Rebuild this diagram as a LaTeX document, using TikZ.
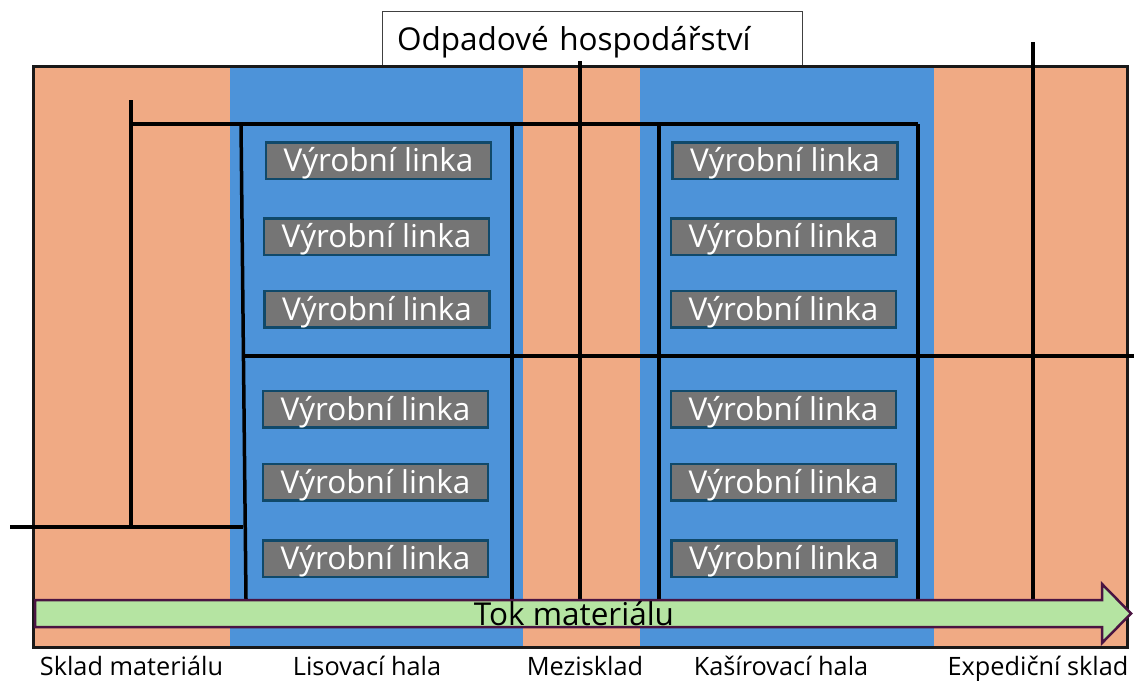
\documentclass[tikz,border=0pt]{standalone}
\usepackage{fontspec}
\setmainfont{Open Sans}
\definecolor{zoneorange}{HTML}{F0AA84}
\definecolor{zoneblue}{HTML}{4D93D9}
\definecolor{linkfill}{HTML}{757575}
\definecolor{linkborder}{HTML}{10496A}
\definecolor{flowfill}{HTML}{B5E4A2}
\definecolor{flowborder}{HTML}{4A1442}
\begin{document}
\begin{tikzpicture}[x=1pt,y=-1pt,
  wall/.style={line width=3.5pt, black},
  linka/.style={draw=linkborder, line width=2.5pt, fill=linkfill, text=white,
    font=\fontsize{31.5}{36}\selectfont, inner sep=0pt, text height=22pt, text depth=0pt,
    minimum width=225pt, minimum height=36.5pt},
  zlabel/.style={font=\fontsize{25.3}{29}\selectfont, anchor=base, inner sep=0pt},
  bigtext/.style={font=\fontsize{31.5}{36}\selectfont}]
\useasboundingbox (0,0) rectangle (1134,680);
% zones
\fill[zoneorange] (33,66) rectangle (230,647);
\fill[zoneblue] (230,66) rectangle (523,647);
\fill[zoneorange] (523,66) rectangle (640,647);
\fill[zoneblue] (640,66) rectangle (934,647);
\fill[zoneorange] (934,66) rectangle (1127,647);
% top box
\node[draw=black!75, line width=0.8pt, fill=white, bigtext, minimum height=55pt,
  inner xsep=15pt, text width=390pt, align=left, text height=22pt, text depth=0pt]
  (odpad) at (592,39) {Odpadové hospodářství};
% outer frame
\draw[line width=3pt, black!90] (33,66) rectangle (1127,647);
% coordinates of walls
\coordinate (p1) at (131,100);
\coordinate (p2) at (131,124);
\coordinate (p3) at (131,527);
\coordinate (p4) at (10,527);
\coordinate (p5) at (243,527);
\coordinate (q1) at (241,124);
\coordinate (q2) at (246,599);
\coordinate (q3) at (512,124);
\coordinate (q4) at (512,599);
\coordinate (q5) at (659,124);
\coordinate (q6) at (659,599);
\coordinate (q7) at (918,124);
\coordinate (q8) at (918,599);
\coordinate (r1) at (580,61);
\coordinate (r2) at (580,599);
\coordinate (s1) at (1033,42);
\coordinate (s2) at (1033,599);
\coordinate (h1) at (243,356);
\coordinate (h2) at (1134,356);
% walls
\draw[wall] (p1) -- (p3);
\draw[wall] (p2) -- (q7);
\draw[wall] (p4) -- (p5);
\draw[wall] (q1) -- (q2);
\draw[wall] (q3) -- (q4);
\draw[wall] (q5) -- (q6);
\draw[wall] (q7) -- (q8);
\draw[wall] (r1) -- (r2);
\draw[wall] (s1) -- (s2);
\draw[wall] (h1) -- (h2);
% production lines
\node[linka] (l1) at (378.5,160.5) {Výrobní linka};
\node[linka] (l2) at (376.5,236.5) {Výrobní linka};
\node[linka] (l3) at (377,309) {Výrobní linka};
\node[linka] (l4) at (375.5,409) {Výrobní linka};
\node[linka] (l5) at (375.5,482) {Výrobní linka};
\node[linka] (l6) at (375.5,558.5) {Výrobní linka};
\node[linka] (k1) at (785,160.5) {Výrobní linka};
\node[linka] (k2) at (783.5,236.5) {Výrobní linka};
\node[linka] (k3) at (783.5,309) {Výrobní linka};
\node[linka] (k4) at (783.5,409) {Výrobní linka};
\node[linka] (k5) at (783.5,482) {Výrobní linka};
\node[linka] (k6) at (784,558.5) {Výrobní linka};
% material flow arrow
\draw[flowborder, line width=2.5pt, fill=flowfill, line join=miter]
  (35,600) -- (1102,600) -- (1102,584) -- (1131,613.5) -- (1102,643) -- (1102,627) -- (35,627) -- cycle;
\node[bigtext, inner sep=0pt, text height=22pt, text depth=0pt] (tok) at (574,614) {Tok materiálu};
% zone labels
\node[zlabel] (z1) at (131.5,675) {Sklad materiálu};
\node[zlabel] (z2) at (367,675) {Lisovací hala};
\node[zlabel] (z3) at (585,675) {Mezisklad};
\node[zlabel] (z4) at (781,675) {Kašírovací hala};
\node[zlabel] (z5) at (1038,675) {Expediční sklad};
\end{tikzpicture}
\end{document}
